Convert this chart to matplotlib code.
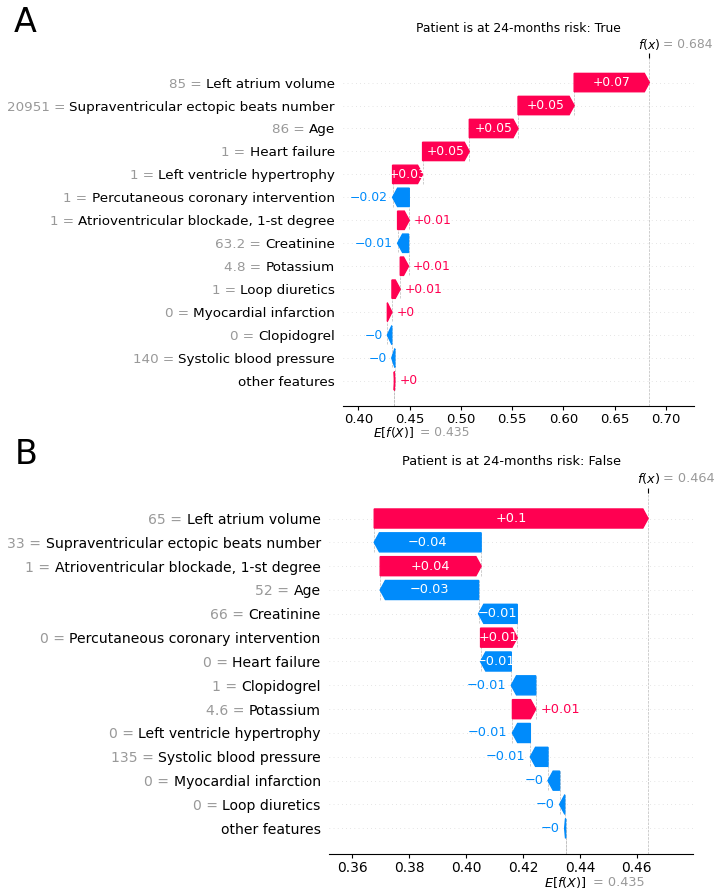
import re
import numpy as np
import matplotlib
matplotlib.use("Agg")
import matplotlib.pyplot as plt

# ---- panel A data (top row first) ----
features_a = ["Left atrium volume", "Supraventricular ectopic beats number", "Age",
              "Heart failure", "Left ventricle hypertrophy",
              "Percutaneous coronary intervention",
              "Atrioventricular blockade, 1-st degree", "Creatinine", "Potassium",
              "Loop diuretics", "Myocardial infarction", "Clopidogrel",
              "Systolic blood pressure", "other features"]
feat_vals_a = ["85", "20951", "86", "1", "1", "1", "1", "63.2", "4.8", "1", "0", "0", "140", ""]
shap_a = [0.0734, 0.0548, 0.0476, 0.0456, 0.0293, -0.0163, 0.0114, -0.0107,
          0.0081, 0.0081, 0.0045, -0.0043, -0.0030, 0.0005]
base_a = 0.435
title_a = "Patient is at 24-months risk: True"
xticks_a = [0.40, 0.45, 0.50, 0.55, 0.60, 0.65, 0.70]

# ---- panel B data (top row first) ----
features_b = ["Left atrium volume", "Supraventricular ectopic beats number",
              "Atrioventricular blockade, 1-st degree", "Age", "Creatinine",
              "Percutaneous coronary intervention", "Heart failure", "Clopidogrel",
              "Potassium", "Left ventricle hypertrophy", "Systolic blood pressure",
              "Myocardial infarction", "Loop diuretics", "other features"]
feat_vals_b = ["65", "33", "1", "52", "66", "0", "0", "1", "4.6", "0", "135", "0", "0", ""]
shap_b = [0.0963, -0.0376, 0.0355, -0.0346, -0.0136, 0.0129, -0.0108, -0.0086,
          0.0082, -0.0063, -0.0062, -0.0041, -0.0018, -0.0003]
base_b = 0.435
title_b = "Patient is at 24-months risk: False"
xticks_b = [0.36, 0.38, 0.40, 0.42, 0.44, 0.46]

RED = (1.0, 0.0, 0.31765)
BLUE = (0.0, 0.54510, 0.98431)
GRAY = "#999999"
W, H = 719, 894


def fmt(v, f):
    s = f % v
    s = re.sub(r'\.?0+$', '', s)
    if s[0] == "-":
        s = "\u2212" + s[1:]
    return s


def waterfall(fig, rect, names, fvals, shap, base, xlim, xticks, title, k):
    # rect in pixels: left, top, right, bottom
    l, t, r, b = rect
    ax = fig.add_axes([l / W, 1 - b / H, (r - l) / W, (b - t) / H])
    n = len(names)
    rows = np.arange(n)[::-1]
    vals = np.array(shap)
    ends = base + np.cumsum(vals[::-1])[::-1]
    starts = ends - vals
    fx = base + vals.sum()

    ax.set_xlim(*xlim)
    ax.set_ylim(-1.09, n + 0.07)
    for rr in rows:
        ax.axhline(rr, color="#cccccc", lw=0.5, dashes=(1, 5), zorder=-1)
    ax.axvline(fx, 0, 1, color="#bbbbbb", linestyle="--", linewidth=0.5, zorder=-1)
    ax.axvline(base, 0, 1 / n, color="#bbbbbb", linestyle="--", linewidth=0.5, zorder=-1)

    renderer = fig.canvas.get_renderer()
    px2x = (xlim[1] - xlim[0]) / ax.get_window_extent().width
    hl = 5 * k * px2x
    gap = 4.5 * k * px2x
    fs_bar = 8.9 * k
    fs_lab = 9.7 * k

    for rr, s, v in zip(rows, starts, vals):
        if v >= 0:
            arr = ax.arrow(s, rr, max(v - hl, 1e-6), 0, head_length=min(v, hl),
                           width=0.8, head_width=0.8, color=RED)
        else:
            arr = ax.arrow(s, rr, -max(-v - hl, 1e-6), 0, head_length=min(-v, hl),
                           width=0.8, head_width=0.8, color=BLUE)
        ax.plot([s, s], [rr - 1.4, rr + 0.4], color="#bbbbbb", linestyle="--",
                linewidth=0.5, zorder=-1)
        lab = fmt(v, "%+0.02f")
        txt = ax.text(s + v / 2, rr, lab, ha="center", va="center",
                      color="white", fontsize=fs_bar)
        tw = txt.get_window_extent(renderer).width
        aw = arr.get_window_extent(renderer).width
        if tw > aw * 1.35:
            txt.remove()
            if v >= 0:
                ax.text(s + v + gap, rr, lab, ha="left", va="center", color=RED, fontsize=fs_bar)
            else:
                ax.text(s + v - gap, rr, lab, ha="right", va="center", color=BLUE, fontsize=fs_bar)

    # feature names in black as tick labels, feature values in gray in front of them
    pad_pt = 6 * k
    ax.set_yticks(rows)
    ax.set_yticklabels(names, fontsize=fs_lab)
    ax.tick_params(axis="y", length=0, pad=pad_pt)
    yt = ax.get_yaxis_transform()
    space_px = 0.318 * fs_lab * 100 / 72
    for rr, nm, fv in zip(rows, names, fvals):
        if not fv:
            continue
        tmp = ax.text(0, 0, nm, fontsize=fs_lab)
        w = tmp.get_window_extent(renderer).width
        tmp.remove()
        ax.annotate(fv + " =", xy=(0, rr), xycoords=yt,
                    xytext=(-(pad_pt * 100 / 72 + w + space_px), 0),
                    textcoords="offset pixels", ha="right", va="center_baseline",
                    fontsize=fs_lab, color=GRAY)

    ax.set_xticks(xticks)
    ax.set_xticklabels([f"{x:.2f}" for x in xticks])
    ax.tick_params(axis="x", length=3, pad=2, labelsize=9.5 * k)
    for sp in ["top", "right", "left"]:
        ax.spines[sp].set_visible(False)

    # f(x) tick on top
    ax3 = ax.twiny()
    ax3.set_xlim(*xlim)
    ax3.set_xticks([fx])
    ax3.set_xticklabels([""])
    ax3.tick_params(axis="x", length=3.5)
    for sp in ax3.spines.values():
        sp.set_visible(False)

    xt = ax.get_xaxis_transform()
    ax.annotate("$f(x)$", xy=(fx, 1), xycoords=xt, xytext=(-11 * k, 14 * k),
                textcoords="offset pixels", ha="left", va="center", fontsize=fs_bar)
    ax.annotate("= " + fmt(fx, "%0.03f"), xy=(fx, 1), xycoords=xt,
                xytext=(14 * k, 14 * k), textcoords="offset pixels",
                ha="left", va="center", fontsize=fs_bar, color=GRAY)
    ax.annotate("$E[f(X)]$", xy=(base, 0), xycoords=xt, xytext=(-21 * k, -27 * k),
                textcoords="offset pixels", ha="left", va="center", fontsize=fs_bar)
    ax.annotate("= " + fmt(base, "%0.03f"), xy=(base, 0), xycoords=xt,
                xytext=(26 * k, -27 * k), textcoords="offset pixels",
                ha="left", va="center", fontsize=fs_bar, color=GRAY)
    ax.annotate(title, xy=(0.5, 1), xycoords="axes fraction", xytext=(0, 30 * k),
                textcoords="offset pixels", ha="center", va="center", fontsize=fs_bar)
    return ax


fig = plt.figure(figsize=(W / 100, H / 100), dpi=100)

waterfall(fig, (343, 58, 694, 406), features_a, feat_vals_a, shap_a, base_a,
          (0.3849, 0.7276), xticks_a, title_a, 1.0)
waterfall(fig, (329.3, 493, 692.7, 854.3), features_b, feat_vals_b, shap_b, base_b,
          (0.3519, 0.4797), xticks_b, title_b, 1.04)

fig.text(14 / W, 1 - 32 / H, "A", fontsize=24, ha="left", va="baseline")
fig.text(15 / W, 1 - 464 / H, "B", fontsize=24, ha="left", va="baseline")

fig.savefig("out.png", dpi=100)
